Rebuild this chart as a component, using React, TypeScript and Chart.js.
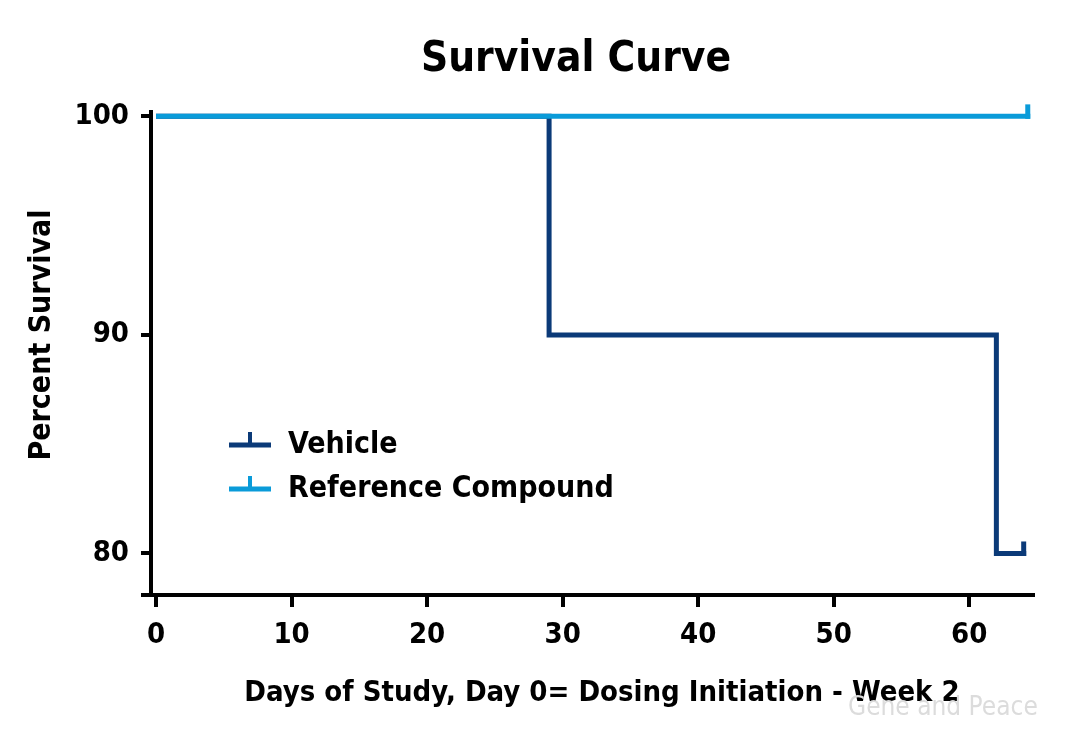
import React, { useEffect, useRef } from "react";
import { Chart, registerables } from "chart.js";

Chart.register(...registerables);

// ---- data ----
const vehicleDays = [0, 29, 62, 64.2];
const vehicleSurvival = [100, 90, 80, 80];
const referenceDays = [0, 64.5];
const referenceSurvival = [100, 100];
const vehicleCensoredDays = [64.2];
const referenceCensoredDays = [64.5];
const xTickValues = [0, 10, 20, 30, 40, 50, 60];
const yTickValues = [80, 90, 100];
const seriesLabels = ["Vehicle", "Reference Compound"];
const seriesColors = ["#0B3A78", "#0A9BD9"];
const chartTitle = "Survival Curve";
const xAxisTitle = "Days of Study, Day 0= Dosing Initiation - Week 2";
const yAxisTitle = "Percent Survival";
const watermarkText = "Gene and Peace";

const FONT = "'DejaVu Sans Condensed', 'DejaVu Sans', sans-serif";

const decorPlugin = {
  id: "decor",
  afterDatasetsDraw(chart: any) {
    const { ctx, chartArea, scales } = chart;
    const x = scales.x;
    const y = scales.y;
    ctx.save();
    // x axis line (extends left past y axis, Prism style)
    ctx.strokeStyle = "#000";
    ctx.lineWidth = 4;
    ctx.beginPath();
    ctx.moveTo(chartArea.left - 10, chartArea.bottom);
    ctx.lineTo(chartArea.right, chartArea.bottom);
    ctx.stroke();

    // censor ticks
    chart.data.datasets.forEach((ds: any) => {
      const cens: number[] = ds.censored || [];
      cens.forEach((d) => {
        let val = ds.data[0].y;
        ds.data.forEach((p: any) => {
          if (p.x <= d) val = p.y;
        });
        const px = x.getPixelForValue(d) - 2.5;
        const py = y.getPixelForValue(val);
        ctx.strokeStyle = ds.borderColor;
        ctx.lineWidth = 5;
        ctx.beginPath();
        ctx.moveTo(px, py + 2.5);
        ctx.lineTo(px, py - 12);
        ctx.stroke();
      });
    });

    // legend
    const lx = chartArea.left + 78;
    const ly = chartArea.top + 333;
    chart.data.datasets.forEach((ds: any, i: number) => {
      const rowY = ly + i * 44;
      ctx.strokeStyle = ds.borderColor;
      ctx.lineWidth = 5;
      ctx.beginPath();
      ctx.moveTo(lx, rowY);
      ctx.lineTo(lx + 42, rowY);
      ctx.stroke();
      ctx.lineWidth = 4;
      ctx.beginPath();
      ctx.moveTo(lx + 21, rowY);
      ctx.lineTo(lx + 21, rowY - 13);
      ctx.stroke();
      ctx.fillStyle = "#000";
      ctx.font = `bold 30px ${FONT}`;
      ctx.textAlign = "left";
      ctx.textBaseline = "middle";
      ctx.fillText(ds.label, lx + 59, rowY);
    });

    // titles
    ctx.fillStyle = "#000";
    ctx.textAlign = "center";
    ctx.textBaseline = "middle";
    ctx.font = `bold 42px ${FONT}`;
    ctx.fillText(chartTitle, 576, 60);
    ctx.font = `bold 29px ${FONT}`;
    ctx.fillText(xAxisTitle, 602, 693);
    ctx.save();
    ctx.translate(42, 335);
    ctx.rotate(-Math.PI / 2);
    ctx.font = `bold 30px ${FONT}`;
    ctx.fillText(yAxisTitle, 0, 0);
    ctx.restore();

    // watermark
    ctx.fillStyle = "#dcdcdc";
    ctx.textAlign = "left";
    ctx.font = `26px ${FONT}`;
    ctx.fillText(watermarkText, 848, 708);
    ctx.restore();
  },
};

export default function App() {
  const ref = useRef<HTMLCanvasElement | null>(null);
  useEffect(() => {
    document.body.style.margin = "0";
    if (!ref.current) return;
    const chart = new Chart(ref.current, {
      type: "line",
      data: {
        datasets: [
          {
            label: seriesLabels[0],
            data: vehicleDays.map((d, i) => ({ x: d, y: vehicleSurvival[i] })),
            borderColor: seriesColors[0],
            backgroundColor: seriesColors[0],
            borderWidth: 5,
            stepped: "before",
            pointRadius: 0,
            borderJoinStyle: "miter",
            order: 1,
            censored: vehicleCensoredDays,
          } as any,
          {
            label: seriesLabels[1],
            data: referenceDays.map((d, i) => ({ x: d, y: referenceSurvival[i] })),
            borderColor: seriesColors[1],
            backgroundColor: seriesColors[1],
            borderWidth: 5,
            stepped: "before",
            pointRadius: 0,
            borderJoinStyle: "miter",
            order: 0,
            censored: referenceCensoredDays,
          } as any,
        ],
      },
      options: {
        animation: false,
        responsive: false,
        devicePixelRatio: 1,
        layout: { padding: { top: 112, right: 45, left: 0, bottom: 0 } },
        plugins: {
          legend: { display: false },
          title: { display: false },
          tooltip: { enabled: false },
        },
        scales: {
          x: {
            type: "linear",
            min: -0.37,
            max: 64.85,
            afterBuildTicks: (s: any) => {
              s.ticks = xTickValues.map((v) => ({ value: v }));
            },
            afterFit: (s: any) => {
              s.height = 157;
            },
            grid: {
              display: true,
              drawOnChartArea: false,
              drawTicks: true,
              tickLength: 12,
              lineWidth: 4,
              color: "#000",
            },
            border: { display: false },
            ticks: {
              color: "#000",
              font: { family: FONT, size: 29, weight: "bold" },
              padding: 11,
              maxRotation: 0,
              autoSkip: false,
            },
          },
          y: {
            type: "linear",
            min: 78.1,
            max: 100.2,
            afterBuildTicks: (s: any) => {
              s.ticks = yTickValues.map((v) => ({ value: v }));
            },
            afterFit: (s: any) => {
              s.width = 151;
            },
            grid: {
              display: true,
              drawOnChartArea: false,
              drawTicks: true,
              tickLength: 10,
              lineWidth: 4,
              color: "#000",
            },
            border: { display: true, width: 4, color: "#000" },
            ticks: {
              color: "#000",
              font: { family: FONT, size: 29, weight: "bold" },
              padding: 12,
            },
          },
        },
      },
      plugins: [decorPlugin],
    } as any);
    return () => chart.destroy();
  }, []);
  return <canvas ref={ref} width={1080} height={752} style={{ display: "block" }} />;
}
